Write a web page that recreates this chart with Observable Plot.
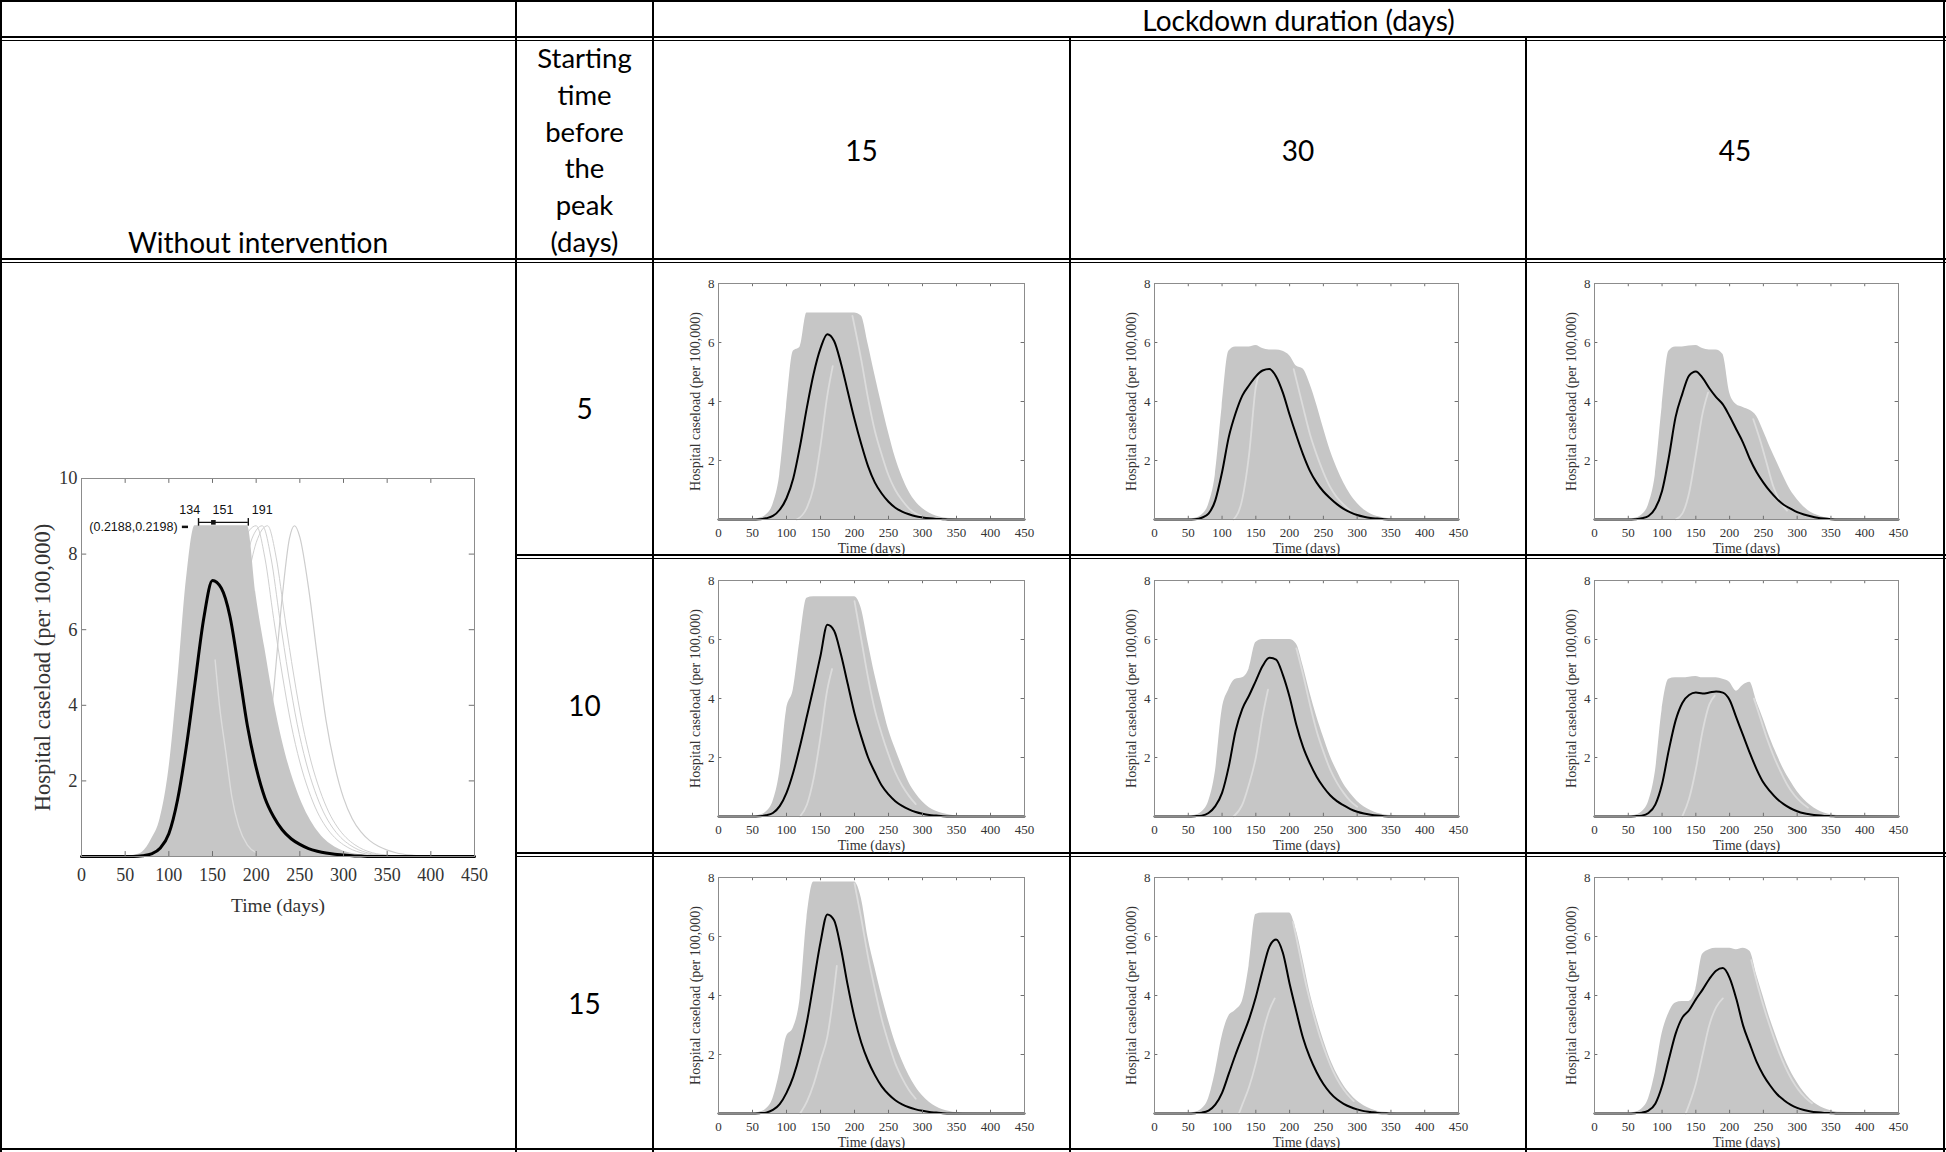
<!DOCTYPE html>
<html>
<head>
<meta charset="utf-8">
<script src="https://cdn.jsdelivr.net/npm/d3@7"></script>
<script src="https://cdn.jsdelivr.net/npm/@observablehq/plot@0.6"></script>
<style>
html, body { margin: 0; padding: 0; background: #fff; }
#page { position: relative; width: 1946px; height: 1152px; overflow: hidden; background: #fff;
        font-family: Lato, "Open Sans", "Noto Sans", sans-serif; color: #000; }
.ln { position: absolute; background: #000; }
.dbl { position: absolute; border-top: 2px solid #000; border-bottom: 1px solid #000; height: 2px; }
.cell { position: absolute; display: flex; align-items: center; justify-content: center; text-align: center; }
.panel { position: absolute; }
</style>
</head>
<body>
<div id="page"></div>
<script>
// ---------------- DATA ----------------
const days = [0, 50, 60, 70, 80, 90,
  100, 110, 120, 130, 140, 150, 160, 170, 180, 190,
  200, 210, 220, 230, 240, 250, 260, 270, 280, 290,
  300, 310, 320, 330, 340, 350, 360, 450];

const xTicks = [0, 50, 100, 150, 200, 250, 300, 350, 400, 450];
const yTicksBig = [2, 4, 6, 8, 10];
const yTicksSmall = [2, 4, 6, 8];
const lockdownDurations = ["15", "30", "45"];
const startTimes = ["5", "10", "15"];

// Without intervention
const meanNone = [0, 0, 0, 0.02, 0.07, 0.22,
  0.6, 1.5, 2.9, 4.6, 6.3, 7.3, 7.1, 6.35, 4.95, 3.45,
  2.35, 1.55, 1.05, 0.7, 0.47, 0.32, 0.21, 0.14, 0.09, 0.06,
  0.04, 0.02, 0.01, 0, 0, 0, 0, 0];
const upperNone = [0, 0, 0.03, 0.12, 0.45, 1.0,
  2.3, 4.6, 7.3, 8.75, 8.75, 8.75, 8.75, 8.75, 8.75, 8.75,
  6.9, 5.5, 4.15, 3.05, 2.2, 1.55, 1.05, 0.68, 0.42, 0.25,
  0.14, 0.08, 0.04, 0.02, 0.01, 0, 0, 0];
const lateRun1 = [[175,7.0],[185,8.3],[200,8.75],[210,7.9],[220,6.3],[230,4.8],[240,3.5],[250,2.5],[260,1.75],[270,1.18],[280,0.78],[290,0.5],[300,0.31],[310,0.18],[320,0.1],[340,0.03],[360,0]];
const lateRun2 = [[185,7.3],[195,8.4],[207,8.75],[217,7.9],[227,6.3],[237,4.8],[247,3.5],[257,2.5],[267,1.75],[277,1.18],[287,0.78],[297,0.5],[307,0.31],[317,0.18],[327,0.1],[347,0.03],[367,0]];
const lateRun3 = [[190,7.3],[200,8.3],[213,8.75],[223,7.9],[233,6.3],[243,4.8],[253,3.5],[263,2.5],[273,1.75],[283,1.18],[293,0.78],[303,0.5],[313,0.31],[323,0.18],[333,0.1],[353,0.03],[373,0]];
const outlierRun = [[165,0],[180,0.08],[190,0.3],[200,0.9],[210,2.2],[220,4.4],[230,6.9],[238,8.4],[244,8.75],[250,8.45],[260,7.1],[270,5.3],[280,3.6],[290,2.4],[300,1.55],[310,1.0],[320,0.65],[330,0.42],[340,0.27],[350,0.17],[360,0.1],[380,0.03],[400,0]];
const streakNone = [[153,5.2],[158,4.0],[165,2.8],[172,1.6],[180,0.8],[190,0.3],[200,0.1]];
const annoBar = [{from: 134, mid: 151, to: 191, level: 8.84}];
const annoLabels = [{t: 124, v: 9.17, text: "134"}, {t: 162, v: 9.17, text: "151"}, {t: 207, v: 9.17, text: "191"}];
const annoNote = [{t: 110, v: 8.72, text: "(0.2188,0.2198)", from: 115.5, to: 122.5}];

// Start 5 days before peak
const mean_5_15 = [0, 0, 0.01, 0.04, 0.12, 0.33,
  0.72, 1.4, 2.5, 3.8, 4.95, 5.8, 6.28, 6.05, 5.3, 4.35,
  3.4, 2.55, 1.8, 1.25, 0.88, 0.6, 0.4, 0.27, 0.18, 0.11,
  0.07, 0.04, 0.02, 0.01, 0, 0, 0, 0];
const upper_5_15 = [0, 0, 0.04, 0.15, 0.5, 1.5,
  3.8, 5.7, 5.85, 7.0, 7.0, 7.0, 7.0, 7.0, 7.0, 7.0,
  7.0, 6.9, 5.95, 4.9, 3.9, 2.95, 2.1, 1.45, 0.95, 0.6,
  0.37, 0.22, 0.12, 0.06, 0.03, 0.01, 0, 0];
const mean_5_30 = [0, 0, 0.01, 0.06, 0.2, 0.65,
  1.6, 2.8, 3.6, 4.2, 4.55, 4.85, 5.05, 5.1, 4.85, 4.3,
  3.55, 2.85, 2.2, 1.65, 1.25, 0.95, 0.72, 0.52, 0.36, 0.24,
  0.15, 0.09, 0.05, 0.03, 0.01, 0, 0, 0];
const upper_5_30 = [0, 0, 0.04, 0.15, 0.5, 1.5,
  3.8, 5.7, 5.85, 5.85, 5.85, 5.9, 5.8, 5.75, 5.75, 5.7,
  5.55, 5.2, 5.1, 4.6, 3.9, 3.1, 2.35, 1.75, 1.25, 0.85,
  0.55, 0.33, 0.19, 0.1, 0.05, 0.02, 0, 0];
const mean_5_45 = [0, 0, 0.01, 0.04, 0.12, 0.38,
  0.97, 2.1, 3.47, 4.26, 4.88, 5.02, 4.8, 4.45, 4.15, 3.9,
  3.5, 3.05, 2.6, 2.05, 1.6, 1.25, 0.95, 0.7, 0.5, 0.37,
  0.25, 0.17, 0.11, 0.06, 0.03, 0.01, 0, 0];
const upper_5_45 = [0, 0, 0.04, 0.15, 0.5, 1.5,
  3.8, 5.7, 5.85, 5.85, 5.88, 5.9, 5.8, 5.75, 5.75, 5.6,
  4.3, 3.9, 3.8, 3.7, 3.5, 3.0, 2.45, 1.95, 1.45, 1.0,
  0.68, 0.42, 0.25, 0.14, 0.07, 0.03, 0.01, 0];

// Start 10 days before peak
const mean_10_15 = [0, 0, 0.01, 0.04, 0.12, 0.35,
  0.8, 1.5, 2.4, 3.4, 4.4, 5.45, 6.5, 6.3, 5.5, 4.5,
  3.5, 2.7, 2.0, 1.5, 1.05, 0.75, 0.52, 0.36, 0.24, 0.15,
  0.09, 0.05, 0.03, 0.01, 0, 0, 0, 0];
const upper_10_15 = [0, 0, 0.04, 0.15, 0.5, 1.5,
  3.6, 4.3, 6.0, 7.4, 7.45, 7.45, 7.45, 7.45, 7.45, 7.45,
  7.45, 7.05, 5.9, 4.8, 3.85, 2.95, 2.3, 1.7, 1.15, 0.78,
  0.5, 0.3, 0.18, 0.1, 0.05, 0.02, 0.01, 0];
const mean_10_30 = [0, 0, 0.01, 0.03, 0.12, 0.35,
  0.8, 1.7, 2.9, 3.65, 4.1, 4.6, 5.1, 5.38, 5.32, 4.8,
  4.05, 3.1, 2.35, 1.8, 1.35, 1.0, 0.72, 0.52, 0.38, 0.25,
  0.16, 0.1, 0.06, 0.03, 0.01, 0, 0, 0];
const upper_10_30 = [0, 0, 0.04, 0.15, 0.5, 1.5,
  3.6, 4.3, 4.65, 4.7, 5.0, 5.9, 6.0, 6.0, 6.0, 6.0,
  6.0, 5.85, 5.1, 4.2, 3.4, 2.7, 2.05, 1.55, 1.1, 0.78,
  0.52, 0.33, 0.2, 0.11, 0.06, 0.03, 0.01, 0];
const mean_10_45 = [0, 0, 0.01, 0.03, 0.12, 0.4,
  1.1, 2.25, 3.25, 3.85, 4.12, 4.2, 4.17, 4.2, 4.24, 4.2,
  3.95, 3.35, 2.75, 2.15, 1.6, 1.15, 0.85, 0.6, 0.42, 0.28,
  0.18, 0.11, 0.07, 0.04, 0.02, 0.01, 0, 0];
const upper_10_45 = [0, 0, 0.04, 0.15, 0.5, 1.5,
  3.6, 4.65, 4.7, 4.7, 4.72, 4.75, 4.7, 4.7, 4.7, 4.65,
  4.55, 4.25, 4.45, 4.55, 3.9, 3.3, 2.65, 2.1, 1.6, 1.2,
  0.85, 0.58, 0.37, 0.22, 0.12, 0.06, 0.03, 0];

// Start 15 days before peak
const mean_15_15 = [0, 0, 0.01, 0.03, 0.12, 0.32,
  0.7, 1.25, 2.05, 3.1, 4.45, 5.8, 6.75, 6.55, 5.6, 4.35,
  3.25, 2.4, 1.78, 1.3, 0.92, 0.65, 0.45, 0.31, 0.21, 0.14,
  0.09, 0.05, 0.03, 0.01, 0, 0, 0, 0];
const upper_15_15 = [0, 0, 0.04, 0.15, 0.5, 1.4,
  2.6, 2.9, 3.9, 6.6, 7.85, 7.85, 7.85, 7.85, 7.85, 7.85,
  7.85, 7.3, 5.95, 4.95, 4.0, 3.15, 2.4, 1.8, 1.3, 0.9,
  0.6, 0.38, 0.23, 0.13, 0.07, 0.03, 0.01, 0];
const mean_15_30 = [0, 0, 0.01, 0.03, 0.1, 0.3,
  0.7, 1.35, 2.0, 2.6, 3.2, 3.95, 4.85, 5.65, 5.9, 5.45,
  4.4, 3.45, 2.55, 1.9, 1.4, 1.0, 0.7, 0.48, 0.33, 0.22,
  0.14, 0.08, 0.05, 0.02, 0.01, 0, 0, 0];
const upper_15_30 = [0, 0, 0.04, 0.15, 0.5, 1.4,
  2.6, 3.3, 3.5, 3.8, 5.0, 6.75, 6.8, 6.8, 6.8, 6.8,
  6.8, 6.2, 5.2, 4.1, 3.25, 2.5, 1.85, 1.35, 0.95, 0.65,
  0.42, 0.26, 0.15, 0.08, 0.04, 0.02, 0, 0];
const mean_15_45 = [0, 0, 0.01, 0.03, 0.1, 0.33,
  0.93, 1.83, 2.7, 3.25, 3.5, 3.87, 4.2, 4.56, 4.84, 4.93,
  4.6, 3.88, 2.98, 2.35, 1.75, 1.3, 0.95, 0.66, 0.46, 0.3,
  0.19, 0.12, 0.07, 0.04, 0.02, 0.01, 0, 0];
const upper_15_45 = [0, 0, 0.04, 0.15, 0.5, 1.4,
  2.7, 3.4, 3.75, 3.8, 3.8, 4.2, 5.4, 5.55, 5.6, 5.6,
  5.6, 5.55, 5.6, 5.5, 4.7, 3.95, 3.2, 2.55, 1.95, 1.45,
  1.05, 0.72, 0.47, 0.29, 0.17, 0.09, 0.04, 0];

// light (late) runs visible inside the grey bands
const sA_5_15 = [[115,0],[130,0.4],[140,1.1],[150,2.5],[160,4.2],[168,5.2]];
const sB_5_15 = [[197,6.9],[210,5.4],[220,4.1],[230,3.0],[240,2.2],[250,1.5],[260,1.0],[270,0.65],[280,0.38],[290,0.2],[300,0.1]];
const sA_5_30 = [[117,0],[130,0.7],[140,2.2],[150,4.5],[156,5.0]];
const sB_5_30 = [[206,5.1],[220,3.8],[230,2.9],[240,2.2],[250,1.6],[260,1.1],[270,0.75],[280,0.5],[290,0.3]];
const sA_5_45 = [[120,0],[130,0.2],[140,0.9],[150,2.2],[160,3.6],[168,4.3]];
const sB_5_45 = [[235,3.4],[245,2.7],[255,1.9],[265,1.1],[275,0.6],[285,0.3]];
const sA_10_15 = [[120,0],[130,0.4],[140,1.3],[150,2.7],[160,4.3],[167,5.0]];
const sB_10_15 = [[200,7.3],[210,6.0],[220,4.7],[230,3.6],[240,2.8],[250,2.1],[260,1.5],[270,1.05],[280,0.7],[290,0.42]];
const sA_10_30 = [[117,0],[130,0.4],[140,1.1],[150,2.0],[160,3.4],[168,4.3]];
const sB_10_30 = [[210,5.7],[220,4.8],[230,3.8],[240,2.9],[250,2.2],[260,1.6],[270,1.15],[280,0.8],[290,0.52],[300,0.33]];
const sA_10_45 = [[130,0],[140,0.6],[150,1.6],[160,2.9],[170,3.8],[178,4.1]];
const sB_10_45 = [[236,4.0],[246,3.3],[256,2.6],[266,2.0],[276,1.5],[286,1.05],[296,0.72],[306,0.48],[316,0.3]];
const sA_15_15 = [[120,0],[130,0.4],[140,1.0],[150,1.8],[160,2.6],[170,4.2],[174,5.0]];
const sB_15_15 = [[200,7.8],[210,6.6],[220,5.3],[230,4.2],[240,3.2],[250,2.4],[260,1.7],[270,1.2],[280,0.8],[290,0.5]];
const sA_15_30 = [[125,0],[130,0.3],[140,0.9],[150,1.7],[160,2.7],[170,3.5],[178,3.9]];
const sB_15_30 = [[205,6.5],[215,5.4],[225,4.3],[235,3.4],[245,2.6],[255,1.95],[265,1.4],[275,0.98],[285,0.66],[295,0.42]];
const sA_15_45 = [[135,0],[140,0.3],[150,1.0],[160,2.0],[170,3.0],[180,3.6],[190,3.9]];
const sB_15_45 = [[232,5.2],[242,4.3],[252,3.5],[262,2.8],[272,2.15],[282,1.6],[292,1.15],[302,0.8],[312,0.54],[322,0.35]];

// ---------------- LAYOUT ----------------
const page = document.getElementById("page");
const serif = "'Liberation Serif', 'Times New Roman', Times, serif";
const sans = "'Liberation Sans', Arial, Helvetica, sans-serif";
const GREY = "#c6c6c6", LIGHT = "#dcdcdc", TICK = "#6f6f6f", FRAME = "#8c8c8c";

function addDiv(cls, css, html) {
  const d = document.createElement("div");
  d.className = cls;
  Object.assign(d.style, css);
  if (html !== undefined) d.innerHTML = html;
  page.appendChild(d);
  return d;
}
// table rules
[[0, 0, 1946, 2], [0, 1148, 1946, 2]].forEach(([x, y, w, h]) => addDiv("ln", {left: x+"px", top: y+"px", width: w+"px", height: h+"px"}));
[[0, 36, 1946], [0, 258, 1946], [516, 554, 1430], [516, 852, 1430]].forEach(([x, y, w]) => addDiv("dbl", {left: x+"px", top: y+"px", width: w+"px"}));
[[0, 0, 1152], [515, 0, 1152], [652, 0, 1152], [1069, 38, 1114], [1525, 38, 1114], [1943, 0, 1152]].forEach(([x, y, h]) => addDiv("ln", {left: x+"px", top: y+"px", width: "2px", height: h+"px"}));

// header texts
addDiv("cell", {left: "653px", top: "2px", width: "1291px", height: "36px", fontSize: "28px"}, "Lockdown duration (days)");
addDiv("cell", {left: "0px", top: "222px", width: "516px", height: "40px", fontSize: "28px"}, "Without intervention");
addDiv("cell", {left: "516px", top: "40px", width: "137px", height: "221px", fontSize: "27.5px", lineHeight: "36.8px", alignItems: "flex-start"},
  "Starting<br>time<br>before<br>the<br>peak<br>(days)");
const colCell = [[653, 417], [1070, 456], [1526, 418]];
lockdownDurations.forEach((s, i) => addDiv("cell", {left: colCell[i][0]+"px", top: "130px", width: colCell[i][1]+"px", height: "40px", fontSize: "28px"}, s));
const rowCenters = [408, 705, 1003];
startTimes.forEach((s, i) => addDiv("cell", {left: "516px", top: (rowCenters[i]-20)+"px", width: "137px", height: "40px", fontSize: "28px"}, s));

function place(svg, left, top) {
  svg.classList.add("panel");
  svg.style.left = left + "px";
  svg.style.top = top + "px";
  page.appendChild(svg);
}
const line = (d, o) => Plot.line(d, {x: p => p[0], y: p => p[1], curve: "monotone-x", ...o});

// ---------------- BIG PLOT (no intervention) ----------------
{
  const rows = days.map((t, i) => ({t, mean: meanNone[i], upper: upperNone[i]}));
  const ML = 81, FW = 393, FH = 378, MT = 8, MB = 62, MR = 25;
  const svg = Plot.plot({
    width: ML + FW + MR, height: MT + FH + MB,
    marginLeft: ML, marginRight: MR, marginTop: MT, marginBottom: MB,
    style: {fontFamily: serif, fontSize: "18px", color: "#333", background: "transparent", overflow: "visible"},
    x: {domain: [0, 450]},
    y: {domain: [0, 10]},
    marks: [
      line(lateRun1, {stroke: "#d0d0d0", strokeWidth: 1}),
      line(lateRun2, {stroke: "#d0d0d0", strokeWidth: 1}),
      line(lateRun3, {stroke: "#d0d0d0", strokeWidth: 1}),
      line(outlierRun, {stroke: "#cdcdcd", strokeWidth: 1.2}),
      Plot.areaY(rows, {x: "t", y: "upper", fill: GREY, curve: "monotone-x"}),
      line(streakNone, {stroke: LIGHT, strokeWidth: 1.4}),
      Plot.line(rows, {x: "t", y: "mean", stroke: "#000", strokeWidth: 3, curve: "monotone-x"}),
      // annotation
      Plot.ruleY(annoBar, {x1: "from", x2: "to", y: "level", stroke: "#111", strokeWidth: 1.4}),
      Plot.ruleX(annoBar, {x: "from", y1: d => d.level - 0.1, y2: d => d.level + 0.1, stroke: "#111", strokeWidth: 1.4}),
      Plot.ruleX(annoBar, {x: "to", y1: d => d.level - 0.1, y2: d => d.level + 0.1, stroke: "#111", strokeWidth: 1.4}),
      Plot.dot(annoBar, {x: "mid", y: "level", r: 2.6, fill: "#111", symbol: "square"}),
      Plot.text(annoLabels, {x: "t", y: "v", text: "text", fontFamily: sans, fontSize: 12.5, fill: "#111"}),
      Plot.text(annoNote, {x: "t", y: "v", text: "text", textAnchor: "end", fontFamily: sans, fontSize: 12.5, fill: "#111"}),
      Plot.ruleY(annoNote, {x1: "from", x2: "to", y: "v", stroke: "#111", strokeWidth: 2.5}),
      // inward ticks
      Plot.ruleX(xTicks, {y1: 0, y2: 0.13, stroke: TICK}),
      Plot.ruleX(xTicks, {y1: 9.87, y2: 10, stroke: TICK}),
      Plot.ruleY(yTicksBig, {x1: 0, x2: 6, stroke: TICK}),
      Plot.ruleY(yTicksBig, {x1: 444, x2: 450, stroke: TICK}),
      Plot.frame({stroke: FRAME}),
      Plot.axisX({ticks: xTicks, tickSize: 0, tickPadding: 12, label: null, fontSize: 18}),
      Plot.axisX({ticks: [], tickSize: 0, label: "Time (days)", labelAnchor: "center", labelOffset: 55, labelArrow: "none", fontSize: 19.5}),
      Plot.axisY({ticks: yTicksBig, tickSize: 0, tickPadding: 4, label: null, fontSize: 18.5}),
      Plot.axisY({ticks: [], tickSize: 0, label: "Hospital caseload (per 100,000)", labelAnchor: "center", labelOffset: 47, labelArrow: "none", fontSize: 22.5})
    ]
  });
  place(svg, 0, 478 - MT);
}

// ---------------- SMALL PLOTS ----------------
const panels = [
  {r: 0, c: 0, mean: mean_5_15, upper: upper_5_15, a: sA_5_15, b: sB_5_15},
  {r: 0, c: 1, mean: mean_5_30, upper: upper_5_30, a: sA_5_30, b: sB_5_30},
  {r: 0, c: 2, mean: mean_5_45, upper: upper_5_45, a: sA_5_45, b: sB_5_45},
  {r: 1, c: 0, mean: mean_10_15, upper: upper_10_15, a: sA_10_15, b: sB_10_15},
  {r: 1, c: 1, mean: mean_10_30, upper: upper_10_30, a: sA_10_30, b: sB_10_30},
  {r: 1, c: 2, mean: mean_10_45, upper: upper_10_45, a: sA_10_45, b: sB_10_45},
  {r: 2, c: 0, mean: mean_15_15, upper: upper_15_15, a: sA_15_15, b: sB_15_15},
  {r: 2, c: 1, mean: mean_15_30, upper: upper_15_30, a: sA_15_30, b: sB_15_30},
  {r: 2, c: 2, mean: mean_15_45, upper: upper_15_45, a: sA_15_45, b: sB_15_45}
];
const frameLeft = [718, 1154, 1594], frameWidth = [306, 304, 304], frameTop = [283, 580, 877];

panels.forEach(p => {
  const rows = days.map((t, i) => ({t, mean: p.mean[i], upper: p.upper[i]}));
  const ML = 50, MR = 10, MT = 8, MB = 42, FW = frameWidth[p.c], FH = 236;
  const svg = Plot.plot({
    width: ML + FW + MR, height: MT + FH + MB,
    marginLeft: ML, marginRight: MR, marginTop: MT, marginBottom: MB,
    style: {fontFamily: serif, fontSize: "13px", color: "#333", background: "transparent", overflow: "visible"},
    x: {domain: [0, 450]},
    y: {domain: [0, 8]},
    marks: [
      Plot.areaY(rows, {x: "t", y: "upper", fill: GREY, curve: "monotone-x"}),
      line(p.a, {stroke: LIGHT, strokeWidth: 1.8}),
      line(p.b, {stroke: LIGHT, strokeWidth: 1.8}),
      Plot.line(rows, {x: "t", y: "mean", stroke: "#000", strokeWidth: 2, curve: "monotone-x"}),
      Plot.ruleX(xTicks, {y1: 0, y2: 0.11, stroke: TICK}),
      Plot.ruleX(xTicks, {y1: 7.89, y2: 8, stroke: TICK}),
      Plot.ruleY(yTicksSmall, {x1: 0, x2: 5, stroke: TICK}),
      Plot.ruleY(yTicksSmall, {x1: 445, x2: 450, stroke: TICK}),
      Plot.frame({stroke: FRAME}),
      Plot.axisX({ticks: xTicks, tickSize: 0, tickPadding: 8, label: null, fontSize: 13}),
      Plot.axisX({ticks: [], tickSize: 0, label: "Time (days)", labelAnchor: "center", labelOffset: 33, labelArrow: "none", fontSize: 14}),
      Plot.axisY({ticks: yTicksSmall, tickSize: 0, tickPadding: 4, label: null, fontSize: 13}),
      Plot.axisY({ticks: [], tickSize: 0, label: "Hospital caseload (per 100,000)", labelAnchor: "center", labelOffset: 28, labelArrow: "none", fontSize: 14})
    ]
  });
  place(svg, frameLeft[p.c] - ML, frameTop[p.r] - MT);
});
</script>
</body>
</html>
